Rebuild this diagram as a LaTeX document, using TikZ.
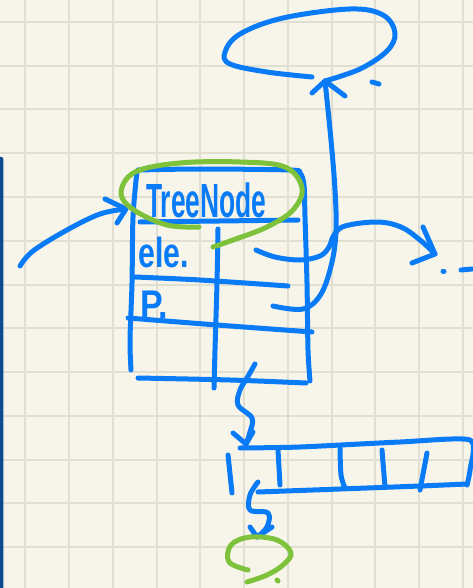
\documentclass[tikz,border=0pt]{standalone}
\usepackage{fontspec}
\setmainfont{Liberation Sans}
\usepackage{graphicx}
\definecolor{paper}{HTML}{F7F5EA}
\definecolor{gridline}{HTML}{E1DED2}
\definecolor{pen}{HTML}{0A7BF7}
\definecolor{marker}{HTML}{7DC23A}
\definecolor{edgebar}{HTML}{0B4A8E}

\tikzset{
  ink/.style={draw=pen, line width=5pt, line cap=round, line join=round},
  hilite/.style={draw=marker, line width=5pt, line cap=round, line join=round},
  hand/.style={text=pen, inner sep=0pt, anchor=base west},
  squares/.style={draw=gridline, line width=2pt},
}

\begin{document}
\begin{tikzpicture}[x=1pt,y=-1pt]
% paper and squared grid
\fill[paper] (0,0) rectangle (473,588);
\useasboundingbox (0,0) rectangle (473,588);
\foreach \i in {0,...,10} \draw[squares] ({25.3+43.75*\i},0) -- ({25.3+43.75*\i},588);
\foreach \j in {0,...,12} \draw[squares] (0,{22+43.75*\j}) -- (473,{22+43.75*\j});
\fill[edgebar, rounded corners=2pt] (-3,157) rectangle (3.3,600);

% anchor points of the arrows
\coordinate (inTip)   at (126,209);
\coordinate (loopTip) at (325,81);
\coordinate (dotsTip) at (435,254);
\coordinate (arrTip)  at (246,444);
\coordinate (qTip)    at (257,537);

% labels of the node record
\node[hand, font=\bfseries\fontsize{48}{48}\selectfont] (title) at (146,217) {\scalebox{0.55}[1]{TreeNode}};
\node[hand, font=\bfseries\fontsize{42}{42}\selectfont] (ele) at (138,267) {\scalebox{0.72}[1]{ele.}};
\node[hand, font=\bfseries\fontsize{40}{40}\selectfont] (par) at (140,318) {\scalebox{0.85}[1]{P.}};

% record frame
\draw[ink] plot[smooth, tension=0.5] coordinates {(131,370) (130,340) (132,283) (133,217) (137,171)};
\draw[ink] plot[smooth, tension=0.5] coordinates {(138,170) (200,169) (290,170) (300,173) (304,185) (305,217) (307,283) (308,350) (310,381)};
\draw[ink] (140,222) -- (298,220);
\draw[ink] plot[smooth, tension=0.5] coordinates {(218,229) (217,283) (215,350) (214,388)};
\draw[ink] plot[smooth, tension=0.5] coordinates {(135,277) (200,280) (288,286)};
\draw[ink] plot[smooth, tension=0.5] coordinates {(128,318) (217,325) (312,332)};
\draw[ink] plot[smooth, tension=0.5] coordinates {(138,378) (230,380) (306,383)};

% incoming pointer
\draw[ink] plot[smooth, tension=0.6] coordinates {(20,266) (33,251) (67,230) (100,214) (inTip)};
\draw[ink] (105,199) -- (inTip) -- (117,223);

% pointer to the parent, looping back up
\draw[ink] plot[smooth, tension=0.6] coordinates {(312,77) (267,72) (230,64) (225,52) (240,34) (283,18) (350,9) (383,15) (395,33) (387,51) (360,69) (loopTip)};
\draw[ink] (372,82) -- (379,84);
\draw[ink] plot[smooth, tension=0.6] coordinates {(273,306) (303,309) (321,294) (332,262) (336,230) (335,190) (331,140) (loopTip)};
\draw[ink] (312,93) -- (loopTip) -- (345,96);

% element pointer, off to the rest
\draw[ink] plot[smooth, tension=0.6] coordinates {(256,250) (275,257) (300,260) (320,256) (329,247) (334,235) (345,226) (377,222) (401,227) (420,240) (dotsTip)};
\draw[ink] (423,227) -- (dotsTip) -- (412,263);
\draw[ink] (443,271) -- (444,271);
\draw[ink] (461,270) -- (472,269);

% down to the children array
\draw[ink] plot[smooth, tension=0.6] coordinates {(255,364) (247,378) (240,390) (238,405) (252,418) (250,432) (arrTip)};
\draw[ink] (233,433) -- (arrTip) -- (253,432);

% children array
\draw[ink] plot[smooth, tension=0.4] coordinates {(240,448) (300,447) (400,442) (470,440) (470,470) (467,485)};
\draw[ink] plot[smooth, tension=0.4] coordinates {(258,492) (340,489) (420,486) (467,484)};
\draw[ink] (228,455) -- (232,493);
\draw[ink] (278,450) -- (280,485);
\draw[ink] plot[smooth, tension=0.5] coordinates {(340,448) (341,475) (345,488)};
\draw[ink] (382,450) -- (385,487);
\draw[ink] (427,453) -- (420,490);

% down to the unknown child
\draw[ink] plot[smooth, tension=0.6] coordinates {(258,482) (250,495) (250,510) (268,513) (267,527) (qTip)};
\draw[ink] (250,527) -- (qTip) -- (272,527);

% green highlights
\draw[hilite] plot[smooth, tension=0.6] coordinates {(199,227) (167,225) (134,210) (121,193) (135,172) (180,163) (240,162) (285,167) (302,188) (293,210) (267,227) (233,240) (213,247)};
\draw[hilite] plot[smooth, tension=0.6] coordinates {(248,570) (229,562) (231,545) (250,537) (277,540) (291,553) (283,565) (267,575) (247,582)};
\draw[hilite] (277,580) -- (278,581);
\end{tikzpicture}
\end{document}
